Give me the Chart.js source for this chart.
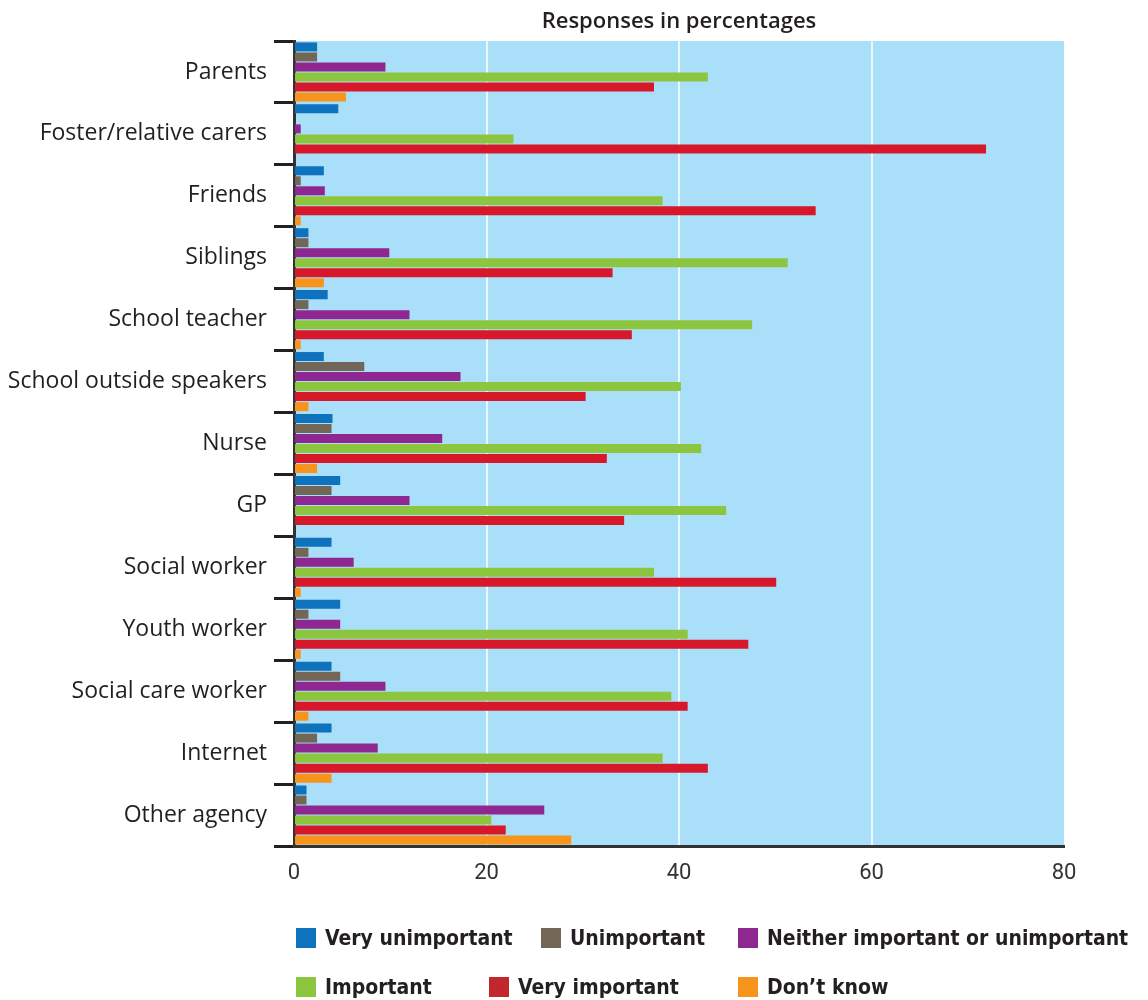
<!DOCTYPE html>
<html>
<head>
<meta charset="utf-8">
<script src="https://cdn.jsdelivr.net/npm/chart.js@4/dist/chart.umd.min.js"></script>
<style>
  html, body { margin: 0; padding: 0; background: #fff; }
  #wrap { position: relative; width: 1148px; height: 1000px; }
  canvas { position: absolute; left: 0; top: 0; }
  .lg { position: absolute; display: flex; align-items: center; font-family: "DejaVu Sans Condensed", "Liberation Sans Narrow", sans-serif; font-weight: bold; font-size: 21px; color: #231f20; white-space: nowrap; }
  .lg span.box { display: inline-block; width: 20px; height: 20px; margin-right: 9px; }
</style>
</head>
<body>
<div id="wrap">
  <canvas id="c" width="1148" height="1000"></canvas>
  <div id="legend"></div>
</div>
<script>
const categories = ["Parents", "Foster/relative carers", "Friends", "Siblings", "School teacher",
  "School outside speakers", "Nurse", "GP", "Social worker", "Youth worker",
  "Social care worker", "Internet", "Other agency"];
const seriesNames = ["Very unimportant", "Unimportant", "Neither important or unimportant",
  "Important", "Very important", "Don\u2019t know"];
const veryUnimportant = [2.4, 4.6, 3.1, 1.5, 3.5, 3.1, 4.0, 4.8, 3.9, 4.8, 3.9, 3.9, 1.3];
const unimportant     = [2.4, 0,   0.7, 1.5, 1.5, 7.3, 3.9, 3.9, 1.5, 1.5, 4.8, 2.4, 1.3];
const neither         = [9.5, 0.7, 3.2, 9.9, 12.0, 17.3, 15.4, 12.0, 6.2, 4.8, 9.5, 8.7, 26.0];
const important       = [43.0, 22.8, 38.3, 51.3, 47.6, 40.2, 42.3, 44.9, 37.4, 40.9, 39.2, 38.3, 20.5];
const veryImportant   = [37.4, 71.9, 54.2, 33.1, 35.1, 30.3, 32.5, 34.3, 50.1, 47.2, 40.9, 43.0, 22.0];
const dontKnow        = [5.4, 0, 0.7, 3.1, 0.7, 1.5, 2.4, 0, 0.7, 0.7, 1.5, 3.9, 28.8];
const xTicks = [0, 20, 40, 60, 80];
const colors = ["#0e72bd", "#726656", "#8e278f", "#8cc63f", "#d7182a", "#f7941d"];
const legendColors = ["#0e72bd", "#726656", "#8e278f", "#8cc63f", "#c1272d", "#f7941d"];
const allSeries = [veryUnimportant, unimportant, neither, important, veryImportant, dontKnow];

const bgPlugin = {
  id: "bg",
  beforeDraw(chart) {
    const a = chart.chartArea, ctx = chart.ctx;
    ctx.save();
    ctx.fillStyle = "#aadff9";
    ctx.fillRect(a.left, a.top, a.right - a.left, a.bottom - a.top);
    ctx.restore();
  },
  afterDraw(chart) {
    const a = chart.chartArea, ctx = chart.ctx;
    ctx.save();
    ctx.fillStyle = "#231f20";
    ctx.font = "600 22px 'Open Sans', sans-serif";
    ctx.textAlign = "center";
    ctx.textBaseline = "middle";
    ctx.fillText("Responses in percentages", (a.left + a.right) / 2, 22);
    ctx.restore();
  }
};

new Chart(document.getElementById("c"), {
  type: "bar",
  data: {
    labels: categories,
    datasets: allSeries.map((d, i) => ({
      label: seriesNames[i],
      data: d,
      backgroundColor: colors[i],
      borderWidth: 0,
      categoryPercentage: 0.97,
      barPercentage: 0.9
    }))
  },
  options: {
    indexAxis: "y",
    responsive: false,
    animation: false,
    layout: { padding: { left: 0, right: 84, top: 41, bottom: 94 } },
    plugins: { legend: { display: false }, tooltip: { enabled: false }, title: { display: false } },
    scales: {
      x: {
        min: 0, max: 80,
        afterBuildTicks(s) { s.ticks = xTicks.map(v => ({ value: v })); },
        afterFit(s) { s.height = 60; },
        grid: { color: (c) => (c.tick && c.tick.value > 0 && c.tick.value < 80) ? "#e8f6fd" : "rgba(0,0,0,0)", lineWidth: 2, drawTicks: false },
        border: { display: true, color: "#333", width: 3 },
        ticks: { padding: 14, color: "#333", font: { family: "Roboto", size: 22 } }
      },
      y: {
        afterFit(s) { s.width = 294; },
        grid: { offset: true, drawOnChartArea: false, drawTicks: true, tickLength: 20, tickColor: "#231f20", tickWidth: 3 },
        border: { display: true, color: "#333", width: 3 },
        ticks: { padding: 7, color: "#231f20", font: { family: "Open Sans", size: 23 } }
      }
    }
  },
  plugins: [bgPlugin]
});

// legend positioned like the reference
const legendPos = [[296, 938], [541, 938], [738, 938], [296, 987], [489, 987], [738, 987]];
const lg = document.getElementById("legend");
seriesNames.forEach((n, i) => {
  const d = document.createElement("div");
  d.className = "lg";
  d.style.left = legendPos[i][0] + "px";
  d.style.top = (legendPos[i][1] - 14) + "px";
  d.style.height = "28px";
  const b = document.createElement("span");
  b.className = "box";
  b.style.background = legendColors[i];
  d.appendChild(b);
  d.appendChild(document.createTextNode(n));
  lg.appendChild(d);
});
</script>
</body>
</html>
